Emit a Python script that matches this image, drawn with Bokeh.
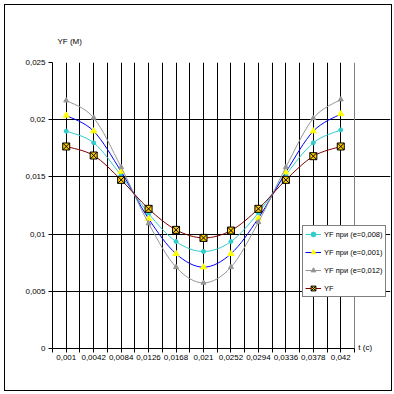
from bokeh.plotting import figure
from bokeh.models import Range1d, FixedTicker, Label, Legend, LegendItem, ColumnDataSource, Grid
from bokeh.embed import file_html
from bokeh.resources import INLINE

# ---- data ----
x_labels = ["0,001", "0,0042", "0,0084", "0,0126", "0,0168", "0,021",
            "0,0252", "0,0294", "0,0336", "0,0378", "0,042"]
yf_e008 = [0.01900, 0.01798, 0.01512, 0.01180, 0.00935, 0.00848, 0.00935, 0.01186, 0.01518, 0.01798, 0.01911]
yf_e001 = [0.02037, 0.01900, 0.01547, 0.01134, 0.00828, 0.00711, 0.00828, 0.01139, 0.01541, 0.01900, 0.02050]
yf_e012 = [0.02168, 0.02017, 0.01585, 0.01093, 0.00711, 0.00574, 0.00711, 0.01104, 0.01585, 0.02013, 0.02177]
yf_base = [0.01766, 0.01687, 0.01474, 0.01221, 0.01037, 0.00967, 0.01031, 0.01221, 0.01474, 0.01681, 0.01766]
series_names = ["YF при (e=0,008)", "YF при (e=0,001)", "YF при (e=0,012)", "YF"]
y_ticks = [0, 0.005, 0.01, 0.015, 0.02, 0.025]
y_tick_labels = ["0", "0,005", "0,01", "0,015", "0,02", "0,025"]
y_title = "YF (M)"
x_title = "t (c)"

n = len(x_labels)
xs = list(range(n))
FONT = "Liberation Sans"

# plot area spans 302 px for the n categories; the frame is widened to hold the legend
PA_W = 302
FRAME_W = 338
x_lo = -0.5
x_hi_pa = n - 0.5
x_hi = x_lo + FRAME_W * (x_hi_pa - x_lo) / PA_W

p = figure(frame_width=FRAME_W, frame_height=286,
           min_border_left=47, min_border_right=1, min_border_top=57, min_border_bottom=42,
           x_range=Range1d(x_lo, x_hi), y_range=Range1d(0, 0.025),
           output_backend="svg", toolbar_location=None, background_fill_color="white",
           border_fill_color="white")
p.styles = {"border": "1px solid black", "margin": "4px"}
p.outline_line_color = None
p.grid.visible = False

half_ticks = [x_lo + i * 0.5 for i in range(2 * n + 1)]
p.xaxis.ticker = FixedTicker(ticks=half_ticks)
overrides = {}
for t in half_ticks:
    if abs(t - round(t)) < 1e-9 and 0 <= round(t) < n:
        overrides[t] = x_labels[int(round(t))]
    else:
        overrides[t] = ""
p.xaxis.major_label_overrides = overrides
p.xaxis.bounds = (x_lo, x_hi_pa)
p.yaxis.ticker = FixedTicker(ticks=y_ticks)
p.yaxis.major_label_overrides = {t: l for t, l in zip(y_ticks, y_tick_labels)}

for ax in (p.xaxis, p.yaxis):
    ax.axis_line_color = "black"
    ax.major_tick_line_color = "black"
    ax.major_tick_out = 4
    ax.major_tick_in = 0
    ax.minor_tick_line_color = None
    ax.major_label_text_font = FONT
    ax.major_label_text_font_size = "8px"
    ax.major_label_text_color = "black"
p.xaxis.major_label_standoff = 2
p.yaxis.major_label_standoff = 3

# gridlines (black) and plot-area border (grey, top and right)
p.add_layout(Grid(dimension=0, ticker=FixedTicker(ticks=[t for t in half_ticks if x_lo < t < x_hi_pa]),
                  bounds=(0, 0.025), grid_line_color="black", grid_line_width=1))
p.add_layout(Grid(dimension=1, ticker=FixedTicker(ticks=y_ticks[1:-1]),
                  bounds=(x_lo, x_hi_pa), grid_line_color="black", grid_line_width=1))
p.add_layout(Grid(dimension=0, ticker=FixedTicker(ticks=[x_hi_pa]),
                  bounds=(0, 0.025), grid_line_color="#808080", grid_line_width=1))
p.add_layout(Grid(dimension=1, ticker=FixedTicker(ticks=[y_ticks[-1]]),
                  bounds=(x_lo, x_hi_pa), grid_line_color="#808080", grid_line_width=1))


def smooth_bezier(xv, yv):
    m = len(xv)
    d = dict(x0=[], y0=[], x1=[], y1=[], cx0=[], cy0=[], cx1=[], cy1=[])
    for i in range(m - 1):
        pm = max(i - 1, 0)
        pn = min(i + 2, m - 1)
        d["x0"].append(xv[i]); d["y0"].append(yv[i])
        d["x1"].append(xv[i + 1]); d["y1"].append(yv[i + 1])
        d["cx0"].append(xv[i] + (xv[i + 1] - xv[pm]) / 6.0)
        d["cy0"].append(yv[i] + (yv[i + 1] - yv[pm]) / 6.0)
        d["cx1"].append(xv[i + 1] - (xv[pn] - xv[i]) / 6.0)
        d["cy1"].append(yv[i + 1] - (yv[pn] - yv[i]) / 6.0)
    return d


styles = [
    dict(data=yf_e008, color="#33CCCC", marker="circle", size=4, fill="#33CCCC", mline="#33CCCC"),
    dict(data=yf_e001, color="#0000FF", marker="triangle", size=6, fill="#FFFF00", mline="#FFFF00"),
    dict(data=yf_e012, color="#969696", marker="triangle", size=5, fill="#969696", mline="#969696"),
    dict(data=yf_base, color="#800000", marker="square_x", size=7, fill="#FFCC00", mline="black"),
]

items = []
for name, st in zip(series_names, styles):
    src = ColumnDataSource(smooth_bezier(xs, st["data"]))
    curve = p.bezier("x0", "y0", "x1", "y1", "cx0", "cy0", "cx1", "cy1", source=src,
                     line_color=st["color"], line_width=1)
    leg_line = p.line(x=[xs[0], xs[0]], y=[st["data"][0], st["data"][0]],
                      line_color=st["color"], line_width=1)
    mk = p.scatter(xs, st["data"], marker=st["marker"], size=st["size"],
                   fill_color=st["fill"], line_color=st["mline"], line_width=1)
    items.append(LegendItem(label=name, renderers=[leg_line, mk]))

legend = Legend(items=items, location=(250, 51), padding=2, spacing=6,
                glyph_width=16, glyph_height=12, label_height=12, label_standoff=3,
                label_text_font=FONT, label_text_font_size="7.5px", label_text_color="black",
                border_line_color="black", border_line_width=1,
                background_fill_color="white", background_fill_alpha=1.0, margin=0)
p.add_layout(legend, "center")

p.add_layout(Label(x=-0.32, y=0.02683, text=y_title, text_font=FONT, text_font_size="8px",
                   text_baseline="middle", text_color="black"), "above")
p.add_layout(Label(x=x_hi_pa + 0.14, y=0.0001, text=x_title, text_font=FONT,
                   text_font_size="8px", text_baseline="middle", text_color="black"), "below")

open("out.html", "w").write(file_html(p, INLINE))
